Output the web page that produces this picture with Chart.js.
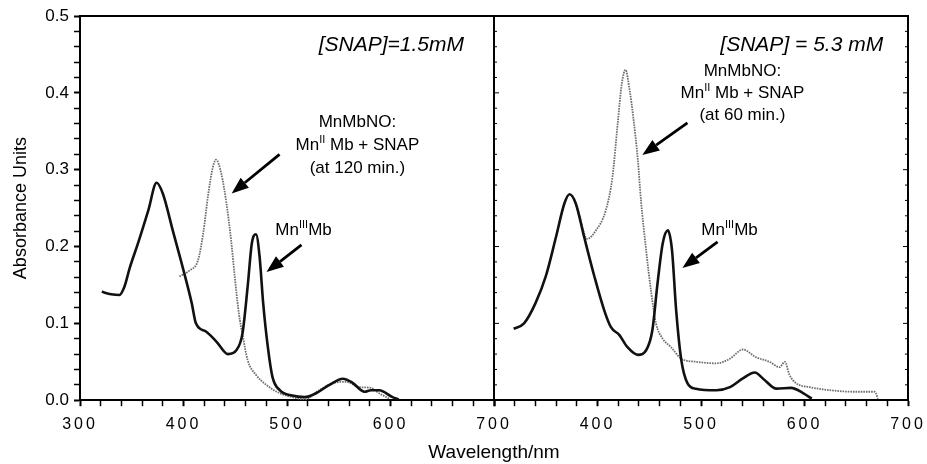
<!DOCTYPE html>
<html>
<head>
<meta charset="utf-8">
<script src="https://cdn.jsdelivr.net/npm/chart.js@4"></script>
<style>
  html, body { margin: 0; padding: 0; background: #fff; }
</style>
</head>
<body>
<canvas id="spectra" width="927" height="464"></canvas>
<script>
// [SNAP] = 1.5 mM panel
const lowMn3Wl = [321, 330, 338, 343, 348, 356, 366, 374, 380, 390, 400, 408, 412, 422, 432, 443, 451, 457, 462, 466, 470, 473.5, 477, 481.5, 486, 493, 505, 517, 528, 541, 554, 563, 575, 581, 589, 602, 608];
const lowMn3Abs = [0.141, 0.138, 0.137, 0.148, 0.172, 0.204, 0.247, 0.283, 0.269, 0.219, 0.169, 0.126, 0.100, 0.089, 0.076, 0.060, 0.065, 0.087, 0.148, 0.204, 0.216, 0.187, 0.126, 0.069, 0.030, 0.013, 0.006, 0.004, 0.009, 0.020, 0.028, 0.023, 0.011, 0.013, 0.013, 0.004, 0.001];
const lowNoWl = [396, 406, 414, 419, 424, 428.5, 431.5, 436.5, 441.5, 446, 449.5, 453.5, 457.5, 462, 470, 480, 493, 505, 517, 531, 544, 557, 570, 581, 589, 599];
const lowNoAbs = [0.161, 0.169, 0.182, 0.217, 0.269, 0.304, 0.313, 0.295, 0.256, 0.208, 0.161, 0.113, 0.082, 0.052, 0.033, 0.020, 0.009, 0.004, 0.001, 0.013, 0.022, 0.024, 0.017, 0.016, 0.009, 0.002];

// [SNAP] = 5.3 mM panel
const highMn3Wl = [319, 329, 340, 350, 360, 368, 373, 379, 387, 397, 406.5, 413, 421, 429, 439, 447, 453, 458, 463, 468, 472, 476, 481, 487, 495, 515, 528, 540, 552, 560, 573, 587, 599, 607];
const highMn3Abs = [0.093, 0.100, 0.126, 0.161, 0.213, 0.256, 0.268, 0.256, 0.213, 0.161, 0.117, 0.095, 0.085, 0.069, 0.059, 0.065, 0.091, 0.152, 0.204, 0.221, 0.195, 0.117, 0.052, 0.022, 0.015, 0.013, 0.017, 0.028, 0.036, 0.028, 0.015, 0.016, 0.009, 0.002];
const highNoWl = [379, 382, 390, 398.5, 408, 414.5, 419.5, 423.5, 427, 431, 434.5, 439, 442, 447, 452, 456.5, 463, 471, 481, 495, 515, 528, 540.5, 553, 566, 576, 581, 585.5, 592, 605, 624.5, 647, 668, 671];
const highNoAbs = [0.256, 0.243, 0.210, 0.221, 0.247, 0.291, 0.360, 0.412, 0.430, 0.404, 0.369, 0.3125, 0.260, 0.195, 0.139, 0.100, 0.080, 0.069, 0.054, 0.050, 0.048, 0.054, 0.066, 0.056, 0.050, 0.043, 0.050, 0.033, 0.022, 0.017, 0.013, 0.011, 0.011, 0.002];

const FONT = '"Liberation Sans", Arial, sans-serif';
Chart.defaults.font.family = FONT;
Chart.defaults.color = '#000';

function pts(xs, ys) {
    return xs.map((x, i) => ({ x: x, y: ys[i] }));
}

const mn3Line = { borderColor: '#111', borderWidth: 2.6, pointRadius: 0, cubicInterpolationMode: 'monotone', yAxisID: 'y' };
const noLine = { borderColor: '#6e6e6e', borderWidth: 1.8, borderDash: [1.6, 1], pointRadius: 0, cubicInterpolationMode: 'monotone', yAxisID: 'y' };

const supII = [{ t: 'Mn' }, { t: 'II', sup: true }, { t: ' Mb + SNAP' }];
const mn3Label = [[{ t: 'Mn' }, { t: 'III', sup: true }, { t: 'Mb' }]];
const notes = [
    { scale: 'x1', x: 671, y: 0.462, align: 'right', size: 21, italic: true, lines: [[{ t: '[SNAP]=1.5mM' }]] },
    { scale: 'x1', x: 568, y: 0.362, size: 17, gap: 0.030, lines: [[{ t: 'MnMbNO:' }], supII, [{ t: '(at 120 min.)' }]] },
    { scale: 'x1', x: 516, y: 0.221, size: 17, lines: mn3Label },
    { scale: 'x2', x: 676, y: 0.462, align: 'right', size: 21, italic: true, lines: [[{ t: '[SNAP] = 5.3 mM' }]] },
    { scale: 'x2', x: 540, y: 0.428, size: 17, gap: 0.0285, lines: [[{ t: 'MnMbNO:' }], supII, [{ t: '(at 60 min.)' }]] },
    { scale: 'x2', x: 527.6, y: 0.221, size: 17, lines: mn3Label }
];
const arrows = [
    { scale: 'x1', from: [492.8, 0.320], to: [446.5, 0.269] },
    { scale: 'x1', from: [514, 0.202], to: [480.2, 0.167] },
    { scale: 'x2', from: [486.9, 0.361], to: [443.3, 0.319] },
    { scale: 'x2', from: [516, 0.206], to: [482, 0.172] }
];

function drawRich(ctx, parts, x, y, align, size, italic) {
    const base = (italic ? 'italic ' : '') + size + 'px ' + FONT;
    const small = Math.round(size * 0.62) + 'px ' + FONT;
    let w = 0;
    parts.forEach(p => { ctx.font = p.sup ? small : base; w += ctx.measureText(p.t).width; });
    let cx = align === 'right' ? x - w : x - w / 2;
    ctx.textAlign = 'left';
    ctx.textBaseline = 'middle';
    parts.forEach(p => {
        ctx.font = p.sup ? small : base;
        ctx.fillText(p.t, cx, p.sup ? y - size * 0.33 : y);
        cx += ctx.measureText(p.t).width;
    });
}

function drawArrow(ctx, x0, y0, x1, y1) {
    const ang = Math.atan2(y1 - y0, x1 - x0);
    const len = 17, half = 6.5;
    const bx = x1 - len * Math.cos(ang), by = y1 - len * Math.sin(ang);
    ctx.lineWidth = 2.8;
    ctx.beginPath();
    ctx.moveTo(x0, y0);
    ctx.lineTo(bx, by);
    ctx.stroke();
    ctx.beginPath();
    ctx.moveTo(x1, y1);
    ctx.lineTo(bx + half * Math.sin(ang), by - half * Math.cos(ang));
    ctx.lineTo(bx - half * Math.sin(ang), by + half * Math.cos(ang));
    ctx.closePath();
    ctx.fill();
}

const decorations = {
    id: 'decorations',
    afterUpdate(chart) {
        // wider letter spacing on the wavelength tick labels
        ['x1', 'x2'].forEach(id => {
            const s = chart.scales[id];
            if (s._spaced) return;
            const draw = s.drawLabels;
            s.drawLabels = function (area) {
                this.ctx.save();
                this.ctx.letterSpacing = '3px';
                draw.call(this, area);
                this.ctx.restore();
            };
            s._spaced = true;
        });
    },
    afterDraw(chart) {
        const { ctx, chartArea: a, scales } = chart;
        const y = scales.y;
        const mid = scales.x2.left;
        ctx.save();
        ctx.strokeStyle = '#000';
        ctx.fillStyle = '#000';
        ctx.lineWidth = 2;
        ctx.beginPath();
        ctx.moveTo(a.left, a.top);
        ctx.lineTo(a.right, a.top);
        ctx.lineTo(a.right, a.bottom);
        ctx.moveTo(mid, a.top);
        ctx.lineTo(mid, a.bottom);
        ctx.stroke();
        ctx.lineWidth = 1;
        y.ticks.forEach(t => {
            const py = y.getPixelForValue(t.value);
            const l = t.label ? 5 : 3;
            ctx.beginPath();
            ctx.moveTo(mid, py); ctx.lineTo(mid + l, py);
            ctx.moveTo(a.right, py); ctx.lineTo(a.right - l, py);
            ctx.stroke();
        });
        notes.forEach(n => {
            const sx = scales[n.scale];
            n.lines.forEach((parts, i) => {
                drawRich(ctx, parts, sx.getPixelForValue(n.x), y.getPixelForValue(n.y - i * (n.gap || 0)), n.align, n.size, n.italic);
            });
        });
        arrows.forEach(ar => {
            const sx = scales[ar.scale];
            drawArrow(ctx, sx.getPixelForValue(ar.from[0]), y.getPixelForValue(ar.from[1]),
                sx.getPixelForValue(ar.to[0]), y.getPixelForValue(ar.to[1]));
        });
        ctx.restore();
    }
};

function wlAxis(hideFirst) {
    return {
        type: 'linear',
        position: 'bottom',
        stack: 'wavelength',
        stackWeight: 1,
        min: 300,
        max: 700,
        afterFit: s => { s.height = 34; s.paddingLeft = 0; s.paddingRight = 0; },
        border: { color: '#000', width: 2 },
        grid: { drawOnChartArea: false, color: '#000', tickLength: 6, tickWidth: c => (c.tick.value % 100 === 0 ? 2 : 1.5) },
        ticks: {
            stepSize: 20,
            maxTicksLimit: 100,
            autoSkip: false,
            maxRotation: 0,
            minRotation: 0,
            padding: 9,
            font: { size: 16 },
            callback: v => (v % 100 === 0 && !(hideFirst && v === 300) ? String(v) : '')
        }
    };
}

new Chart(document.getElementById('spectra').getContext('2d'), {
    type: 'line',
    data: {
        datasets: [
            Object.assign({ label: 'MnIIIMb 1.5', data: pts(lowMn3Wl, lowMn3Abs), xAxisID: 'x1' }, mn3Line),
            Object.assign({ label: 'MnIIIMb 5.3', data: pts(highMn3Wl, highMn3Abs), xAxisID: 'x2' }, mn3Line),
            Object.assign({ label: 'MnMbNO 1.5', data: pts(lowNoWl, lowNoAbs), xAxisID: 'x1' }, noLine),
            Object.assign({ label: 'MnMbNO 5.3', data: pts(highNoWl, highNoAbs), xAxisID: 'x2' }, noLine)
        ]
    },
    options: {
        responsive: false,
        animation: false,
        layout: { padding: { left: 0, right: 19, top: 16, bottom: 0 } },
        plugins: {
            legend: { display: false },
            tooltip: { enabled: false },
            title: {
                display: true,
                position: 'bottom',
                fullSize: false,
                text: 'Wavelength/nm',
                font: { size: 19, weight: 'normal' },
                padding: { top: 7, bottom: 0 }
            }
        },
        scales: {
            x1: wlAxis(false),
            x2: wlAxis(true),
            y: {
                position: 'left',
                min: 0,
                max: 0.5,
                afterFit: s => { s.width = 80; },
                border: { color: '#000', width: 2 },
                grid: { drawOnChartArea: false, color: '#000', tickLength: 6, tickWidth: c => (c.tick.label ? 2 : 1.5) },
                ticks: {
                    stepSize: 0.02,
                    maxTicksLimit: 100,
                    autoSkip: false,
                    padding: 5,
                    font: { size: 17 },
                    callback: v => (Math.abs(v * 10 - Math.round(v * 10)) < 1e-6 ? v.toFixed(1) : '')
                },
                title: {
                    display: true,
                    text: 'Absorbance Units',
                    font: { size: 18 },
                    padding: { top: 10, bottom: 0 }
                }
            }
        }
    },
    plugins: [decorations]
});
</script>
</body>
</html>
